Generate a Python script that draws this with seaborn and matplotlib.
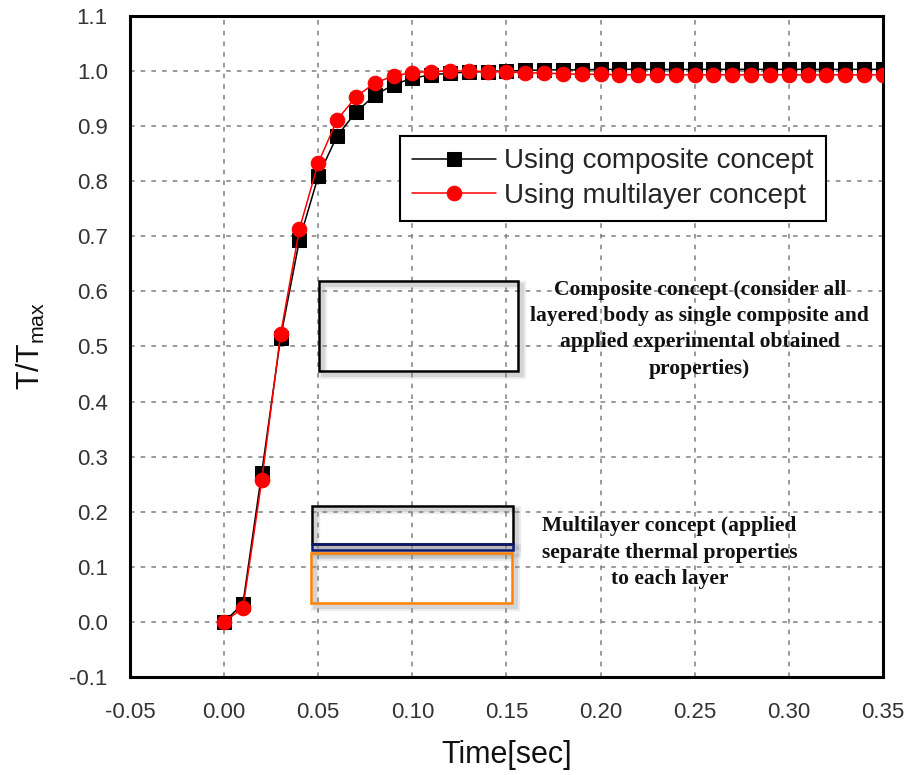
import numpy as np
import pandas as pd
import seaborn as sns
import matplotlib
matplotlib.use("Agg")
import matplotlib.pyplot as plt
import matplotlib.transforms as mtransforms
from matplotlib.patches import Rectangle

# Normalised temperature history T/Tmax versus time
time = [0.00, 0.01, 0.02, 0.03, 0.04, 0.05, 0.06, 0.07, 0.08, 0.09,
        0.10, 0.11, 0.12, 0.13, 0.14, 0.15, 0.16, 0.17, 0.18, 0.19,
        0.20, 0.21, 0.22, 0.23, 0.24, 0.25, 0.26, 0.27, 0.28, 0.29,
        0.30, 0.31, 0.32, 0.33, 0.34, 0.35]
composite = [0.000, 0.033, 0.271, 0.516, 0.693, 0.809, 0.882, 0.925, 0.956, 0.975,
             0.987, 0.993, 0.996, 0.998, 0.999, 1.000, 1.001, 1.002, 1.002, 1.002,
             1.003, 1.003, 1.003, 1.003, 1.003, 1.003, 1.003, 1.003, 1.003, 1.003,
             1.003, 1.003, 1.003, 1.003, 1.003, 1.003]
multilayer = [0.000, 0.025, 0.257, 0.522, 0.713, 0.833, 0.911, 0.953, 0.978, 0.991,
              0.997, 0.999, 1.000, 1.000, 0.999, 0.998, 0.997, 0.996, 0.995, 0.994,
              0.994, 0.993, 0.993, 0.993, 0.993, 0.993, 0.993, 0.993, 0.993, 0.993,
              0.993, 0.993, 0.993, 0.993, 0.993, 0.993]
series_names = ["Using composite concept", "Using multilayer concept"]

x_ticks = [-0.05, 0.00, 0.05, 0.10, 0.15, 0.20, 0.25, 0.30, 0.35]
y_ticks = [-0.1, 0.0, 0.1, 0.2, 0.3, 0.4, 0.5, 0.6, 0.7, 0.8, 0.9, 1.0, 1.1]

note_composite = ("Composite concept (consider all\n"
                  "layered body as single composite and\n"
                  "applied experimental obtained\n"
                  "properties)")
note_multilayer = ("Multilayer concept (applied\n"
                   "separate thermal properties\n"
                   "to each layer")

sns.set_theme(style="white")
plt.rcParams["font.family"] = ["Liberation Sans", "DejaVu Sans"]
plt.rcParams["mathtext.default"] = "regular"

fig = plt.figure(figsize=(9.06, 7.75), dpi=100)
ax = fig.add_axes([0.1435, 0.1265, 0.831, 0.853])

df = pd.DataFrame({"time": time, "composite": composite, "multilayer": multilayer})

sns.lineplot(data=df, x="time", y="composite", ax=ax, color="black",
             marker="s", markersize=9.5, markeredgecolor="black", linewidth=1.1,
             label=series_names[0], zorder=3)
sns.lineplot(data=df, x="time", y="multilayer", ax=ax, color="#ff0000",
             marker="o", markersize=10.5, markeredgecolor="#ff0000", linewidth=1.1,
             label=series_names[1], zorder=4)

ax.set_xlim(-0.05, 0.35)
ax.set_ylim(-0.1, 1.1)
ax.set_xticks(x_ticks)
ax.set_yticks(y_ticks)
ax.set_xticklabels([f"{v:.2f}" for v in x_ticks])
ax.set_yticklabels([f"{v:.1f}" for v in y_ticks])
ax.tick_params(axis="both", length=0, labelsize=16, labelcolor="#333333")
ax.tick_params(axis="x", pad=18)
ax.tick_params(axis="y", pad=16)

ax.grid(True, color="#7f7f7f", linestyle=(0, (3, 4)), linewidth=1.1, zorder=0)
ax.set_axisbelow(True)
for s in ax.spines.values():
    s.set_visible(True)
    s.set_color("black")
    s.set_linewidth(2.2)

ax.set_xlabel("Time[sec]", fontsize=22, labelpad=12, color="#111111")
ax.set_ylabel(r"T/T$_{max}$", fontsize=22, labelpad=16, color="#111111")

leg = ax.legend(loc="upper left", bbox_to_anchor=(0.3586, 0.8185),
                fontsize=20, frameon=True, fancybox=False, framealpha=1,
                edgecolor="black", handlelength=3.0, labelspacing=0.3,
                borderpad=0.45, handletextpad=0.3, borderaxespad=0)
leg.get_frame().set_linewidth(1.5)

# Annotation boxes with soft drop shadows
shadow_tf = mtransforms.offset_copy(ax.transData, fig=fig, x=4, y=-4, units="dots")
boxes = [
    ((0.0505, 0.4545), 0.1055, 0.1635, "black", 1.8),
    ((0.0468, 0.142), 0.1069, 0.069, "black", 1.8),
    ((0.0468, 0.131), 0.1069, 0.011, "#0b1a6e", 1.8),
    ((0.0460, 0.0345), 0.1067, 0.0905, "#ff8000", 1.8),
]
for (x0, y0), w, h, col, lw in boxes:
    for extra, a in [(6, 0.15), (3, 0.25)]:
        ax.add_patch(Rectangle((x0, y0), w, h, fill=False, edgecolor="#8a8a8a",
                               linewidth=extra, alpha=a, transform=shadow_tf,
                               zorder=1))
    ax.add_patch(Rectangle((x0, y0), w, h, fill=False, edgecolor=col,
                           linewidth=lw, zorder=2))

ax.text(0.2527, 0.531, note_composite, ha="center", va="center",
        fontsize=15.5, fontweight="bold", family=["Liberation Serif"],
        color="#111111", linespacing=1.42, zorder=5)
ax.text(0.2367, 0.1255, note_multilayer, ha="center", va="center",
        fontsize=15.5, fontweight="bold", family=["Liberation Serif"],
        color="#111111", linespacing=1.42, zorder=5)

fig.savefig("out.png", dpi=100, facecolor="white")
